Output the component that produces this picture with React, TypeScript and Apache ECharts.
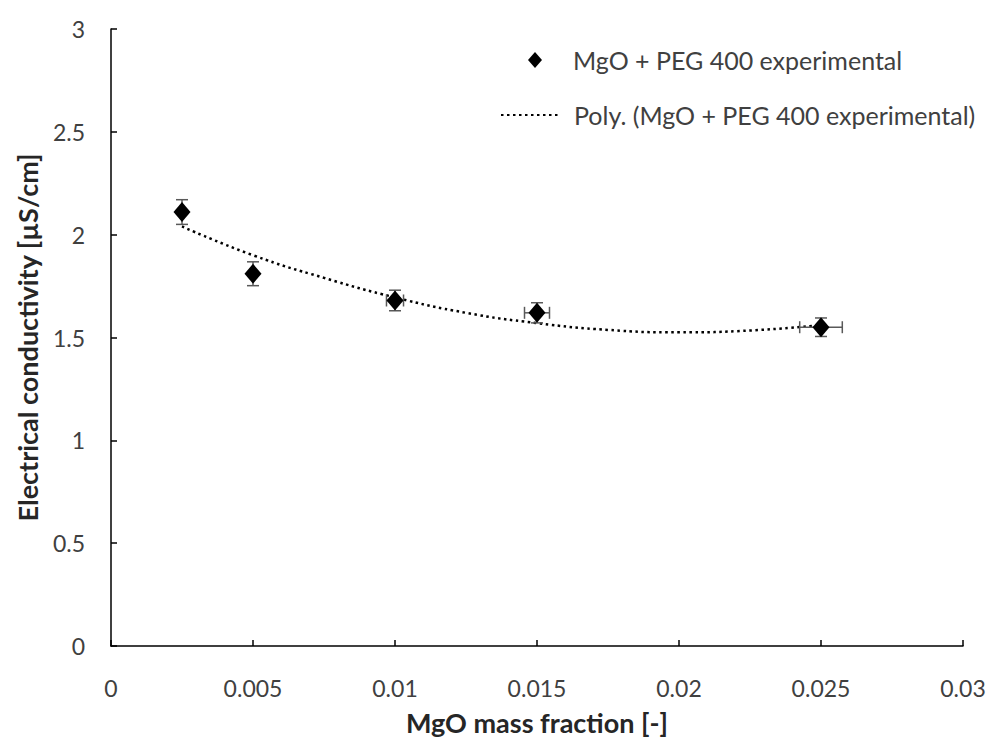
import { useEffect, useRef } from "react";
import * as echarts from "echarts";

// measured points (MgO mass fraction vs conductivity) with error bars
const massFraction = [0.0025, 0.005, 0.01, 0.015, 0.025];
const conductivity = [2.11, 1.81, 1.68, 1.62, 1.55];
const xError = [0, 0, 0.0003, 0.00044, 0.00075];
const yError = [0.06, 0.058, 0.05, 0.049, 0.045];

// polynomial trend line
const trendX = [0.0025, 0.005, 0.0075, 0.01, 0.0125, 0.015, 0.0175, 0.02, 0.0225, 0.025];
const trendY = [2.04, 1.9, 1.79, 1.695, 1.62, 1.57, 1.537, 1.525, 1.534, 1.56];

const seriesName = "MgO + PEG 400 experimental";
const trendName = "Poly. (MgO + PEG 400 experimental)";

const FONT = "Lato";

export default function App() {
  const chartRef = useRef<HTMLDivElement>(null);

  useEffect(() => {
    if (!chartRef.current) return;
    const chart = echarts.init(chartRef.current, null, { renderer: "svg" });

    const points = massFraction.map((x, i) => [x, conductivity[i]]);
    const bars = massFraction.map((x, i) => [x, conductivity[i], xError[i], yError[i]]);
    const trend = trendX.map((x, i) => [x, trendY[i]]);

    const axisLine = { lineStyle: { color: "#000", width: 1.5 } };
    const axisTick = { inside: true, length: 6, lineStyle: { color: "#000", width: 1.5 } };
    const axisLabel = { color: "#404040", fontSize: 23, fontFamily: FONT };
    const nameStyle = { color: "#262626", fontSize: 27, fontWeight: "bold" as const, fontFamily: FONT };
    const legendText = { fontSize: 25, color: "#404040", fontFamily: FONT, lineHeight: 28 };

    chart.setOption({
      animation: false,
      textStyle: { fontFamily: FONT },
      grid: { left: 111, right: 37, top: 29, bottom: 100 },
      legend: [
        {
          data: [{ name: seriesName, icon: "diamond", itemStyle: { color: "#000", opacity: 1 } }],
          left: 528,
          top: 46,
          padding: 0,
          itemWidth: 14,
          itemHeight: 16,
          selectedMode: false,
          textStyle: { ...legendText, padding: [0, 0, 0, 26] },
        },
        {
          data: [{ name: trendName, itemStyle: { opacity: 0 } }],
          left: 500,
          top: 101,
          padding: 0,
          itemWidth: 60,
          itemHeight: 14,
          selectedMode: false,
          textStyle: { ...legendText, padding: [0, 0, 0, 8] },
        },
      ],
      xAxis: {
        type: "value",
        min: 0,
        max: 0.03,
        interval: 0.005,
        name: "MgO mass fraction [-]",
        nameLocation: "middle",
        nameGap: 63,
        nameTextStyle: nameStyle,
        axisLine,
        axisTick,
        axisLabel: { ...axisLabel, margin: 30 },
        splitLine: { show: false },
      },
      yAxis: {
        type: "value",
        min: 0,
        max: 3,
        interval: 0.5,
        name: "Electrical conductivity [µS/cm]",
        nameLocation: "middle",
        nameGap: 70,
        nameTextStyle: nameStyle,
        axisLine: { show: true, ...axisLine },
        axisTick,
        axisLabel: { ...axisLabel, margin: 26 },
        splitLine: { show: false },
      },
      series: [
        {
          name: trendName,
          type: "line",
          data: trend,
          smooth: true,
          symbol: "none",
          z: 2,
          itemStyle: { color: "#000" },
          lineStyle: { color: "#000", width: 2.5, type: [2.5, 3.5] },
        },
        {
          name: "error",
          type: "custom",
          data: bars,
          z: 3,
          renderItem: (_params: any, api: any) => {
            const x = api.value(0);
            const y = api.value(1);
            const ex = api.value(2);
            const ey = api.value(3);
            const top = api.coord([x, y + ey]);
            const bottom = api.coord([x, y - ey]);
            const style = { stroke: "#595959", lineWidth: 1.5 };
            const cap = 6;
            const children: any[] = [
              { type: "line", shape: { x1: top[0], y1: top[1], x2: bottom[0], y2: bottom[1] }, style },
              { type: "line", shape: { x1: top[0] - cap, y1: top[1], x2: top[0] + cap, y2: top[1] }, style },
              { type: "line", shape: { x1: bottom[0] - cap, y1: bottom[1], x2: bottom[0] + cap, y2: bottom[1] }, style },
            ];
            if (ex > 0) {
              const left = api.coord([x - ex, y]);
              const right = api.coord([x + ex, y]);
              children.push(
                { type: "line", shape: { x1: left[0], y1: left[1], x2: right[0], y2: right[1] }, style },
                { type: "line", shape: { x1: left[0], y1: left[1] - cap, x2: left[0], y2: left[1] + cap }, style },
                { type: "line", shape: { x1: right[0], y1: right[1] - cap, x2: right[0], y2: right[1] + cap }, style }
              );
            }
            return { type: "group", children };
          },
        },
        {
          name: seriesName,
          type: "scatter",
          data: points,
          symbol: "diamond",
          symbolSize: [17, 20],
          z: 4,
          itemStyle: { color: "#000", opacity: 1 },
        },
      ],
    });

    return () => chart.dispose();
  }, []);

  return (
    <div
      ref={chartRef}
      style={{ position: "absolute", left: 0, top: 0, width: 1000, height: 746, background: "#fff" }}
    />
  );
}
